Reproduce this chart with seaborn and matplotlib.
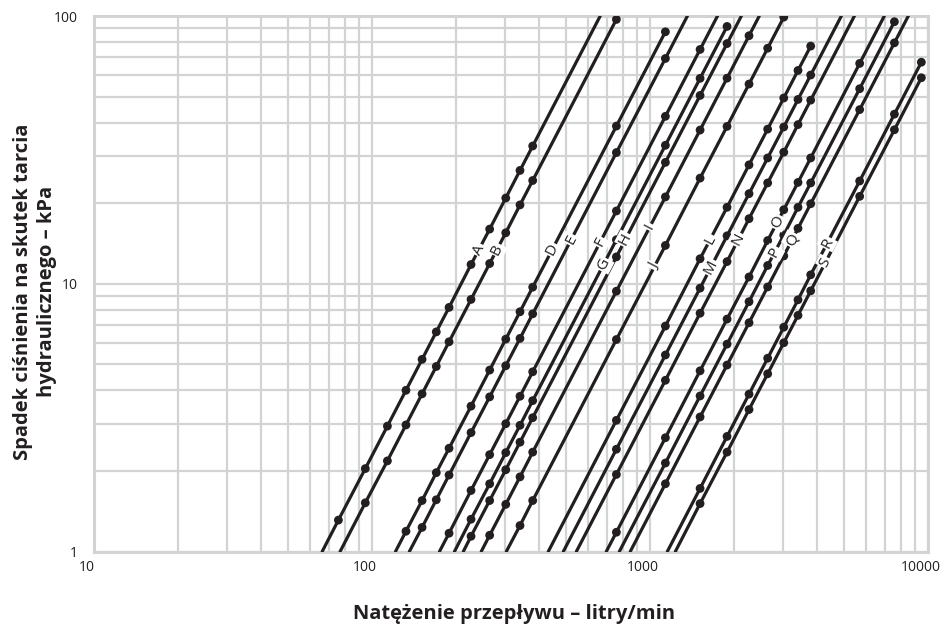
import numpy as np
import pandas as pd
import matplotlib
matplotlib.use("Agg")
import matplotlib.pyplot as plt
import matplotlib.transforms as mtransforms
from matplotlib.ticker import LogLocator, NullFormatter, FixedLocator, FixedFormatter
import seaborn as sns

N = np.nan
# Flow rates (L/min) at which the table points (dots) are given
flow_lpm = [75.7, 94.6, 113.6, 132.5, 151.4, 170.3, 189.3, 227.1, 265.0, 302.8, 340.7, 378.5,
            757, 1136, 1514, 1893, 2271, 2650, 3028, 3407, 3785, 5678, 7571, 9464]

labels = ["A", "B", "D", "E", "F", "G", "H", "I", "J", "L", "M", "N", "O", "P", "Q", "R", "S"]

# Friction pressure drop (kPa) per line at the flows above (nan = no point)
p_A = [1.31, 2.04, 2.94, 4.00, 5.22, 6.61, 8.16, 11.8, 16.0, 20.9, 26.5, 32.7] + [N] * 12
p_B = [N, 1.52, 2.18, 2.97, 3.88, 4.91, 6.07, 8.74, 11.9, 15.5, 19.7, 24.3, 97.1] + [N] * 11
p_D = [N, N, N, 1.19, 1.55, 1.97, 2.43, 3.49, 4.76, 6.21, 7.86, 9.71, 38.8, 87.3] + [N] * 10
p_E = [N] * 4 + [1.23, 1.56, 1.93, 2.78, 3.78, 4.94, 6.25, 7.72, 30.9, 69.4] + [N] * 10
p_F = [N] * 6 + [1.17, 1.69, 2.30, 3.00, 3.80, 4.69, 18.7, 42.2, 75.0] + [N] * 9
p_G = [N] * 7 + [1.32, 1.79, 2.34, 2.96, 3.66, 14.6, 32.9, 58.5, 91.4] + [N] * 8
p_H = [N] * 7 + [1.14, 1.55, 2.02, 2.56, 3.16, 12.6, 28.4, 50.5, 78.9] + [N] * 8
p_I = [N] * 8 + [1.15, 1.50, 1.90, 2.35, 9.38, 21.1, 37.5, 58.6, 84.4] + [N] * 7
p_J = [N] * 10 + [1.25, 1.55, 6.19, 13.9, 24.8, 38.7, 55.7, 75.8, 99.0] + [N] * 5
p_L = [N] * 12 + [3.09, 6.95, 12.4, 19.3, 27.8, 37.8, 49.4, 62.6, 77.2] + [N] * 3
p_M = [N] * 12 + [2.41, 5.42, 9.63, 15.1, 21.7, 29.5, 38.5, 48.8, 60.2] + [N] * 3
p_N = [N] * 12 + [1.94, 4.36, 7.76, 12.1, 17.5, 23.8, 31.0, 39.3, 48.5] + [N] * 3
p_O = [N] * 12 + [1.18, 2.66, 4.73, 7.38, 10.6, 14.5, 18.9, 23.9, 29.5, 66.5] + [N] * 2
p_P = [N] * 13 + [2.14, 3.81, 5.95, 8.57, 11.7, 15.2, 19.3, 23.8, 53.5, 95.2] + [N] * 1
p_Q = [N] * 13 + [1.79, 3.18, 4.97, 7.15, 9.73, 12.7, 16.1, 19.9, 44.7, 79.4] + [N] * 1
p_R = [N] * 14 + [1.72, 2.69, 3.87, 5.27, 6.88, 8.71, 10.8, 24.2, 43.0, 67.2]
p_S = [N] * 14 + [1.51, 2.35, 3.39, 4.61, 6.02, 7.62, 9.41, 21.2, 37.6, 58.8]

# Flow where each line crosses 1 kPa, and 100 kPa (only for lines running to the top)
start_lpm = [66.2, 76.8, 121.5, 136.3, 174.9, 198.0, 213.1, 247.2, 304.3, 430.7,
             487.9, 543.5, 696.4, 775.9, 849.4, 1154.4, 1233.9]
top_lpm = [662, N, N, 1363, 1749, N, 2131, 2472, N, N, 4879, 5435, 6964, N, 8494, N, N]

x_ticks = [10, 100, 1000, 10000]
y_ticks = [1, 10, 100]
x_title = "Natężenie przepływu – litry/min"
y_title = "Spadek ciśnienia na skutek tarcia\nhydraulicznego – kPa"

pressures = [p_A, p_B, p_D, p_E, p_F, p_G, p_H, p_I, p_J, p_L, p_M, p_N, p_O, p_P, p_Q, p_R, p_S]

# ---- layout / style (not data) ----
label_kpa = [13.4, 13.4, 13.4, 14.6, 14.3, 11.8, 14.6, 16.3, 11.6, 14.6, 11.5, 14.6,
             17.0, 13.1, 14.6, 14.2, 12.0]
INK = "#231f20"
GRID = "#d2d3d5"

sns.set_style("white")
plt.rcParams["font.family"] = ["Open Sans", "DejaVu Sans"]

dot_rows, line_rows = [], []
for lab, ps, q0, qt in zip(labels, pressures, start_lpm, top_lpm):
    pts = [(q0, 1.0)]
    for q, p in zip(flow_lpm, ps):
        if not np.isnan(p):
            dot_rows.append({"line": lab, "flow": q, "p": p})
            pts.append((q, p))
    if not np.isnan(qt):
        pts.append((qt, 100.0))
    for q, p in pts:
        line_rows.append({"line": lab, "flow": q, "p": p})
dots = pd.DataFrame(dot_rows)
lines = pd.DataFrame(line_rows)

fig = plt.figure(figsize=(9.4, 6.29), dpi=100)
ax = fig.add_axes([94 / 940, 1 - 551.5 / 629, (928 - 94) / 940, (551.5 - 16) / 629])
ax.set_xscale("log")
ax.set_yscale("log")
ax.set_xlim(10, 10000)
ax.set_ylim(1, 100)

sns.lineplot(data=lines, x="flow", y="p", units="line", estimator=None, sort=True,
             color=INK, lw=2.3, ax=ax, legend=False, zorder=3)
sns.scatterplot(data=dots, x="flow", y="p", color=INK, s=40, edgecolor="none",
                ax=ax, legend=False, zorder=4)

ax.xaxis.set_major_locator(FixedLocator(x_ticks))
ax.xaxis.set_major_formatter(FixedFormatter([str(t) for t in x_ticks]))
ax.yaxis.set_major_locator(FixedLocator(y_ticks))
ax.yaxis.set_major_formatter(FixedFormatter([str(t) for t in y_ticks]))
ax.xaxis.set_minor_locator(LogLocator(base=10, subs=np.arange(2, 10)))
ax.yaxis.set_minor_locator(LogLocator(base=10, subs=np.arange(2, 10)))
ax.xaxis.set_minor_formatter(NullFormatter())
ax.yaxis.set_minor_formatter(NullFormatter())
ax.grid(which="both", color=GRID, lw=1.6, zorder=0)
ax.set_axisbelow(True)
ax.tick_params(which="both", length=0, labelsize=10, colors=INK)
ax.tick_params(axis="x", pad=6)
ax.tick_params(axis="y", pad=12)
for s in ax.spines.values():
    s.set_color(GRID)
    s.set_linewidth(2.2)

# x tick labels sit slightly left of their grid lines in the reference
shift = mtransforms.ScaledTranslation(-7 / 100, 0, fig.dpi_scale_trans)
for t in ax.get_xticklabels():
    t.set_transform(t.get_transform() + shift)

ax.set_xlabel(x_title, fontsize=14.5, fontweight="bold", color=INK)
ax.set_ylabel(y_title, fontsize=14.5, fontweight="bold", color=INK, linespacing=1.3)
ax.xaxis.set_label_coords(0.504, -0.117)
ax.xaxis.label.set_va("center")
ax.yaxis.set_label_coords(-0.071, 0.485)
ax.yaxis.label.set_va("center")

# labels along lines
for lab, q0, pl in zip(labels, start_lpm, label_kpa):
    sub = lines[lines["line"] == lab].sort_values("flow")
    lq = np.log10(sub["flow"].values)
    lp = np.log10(sub["p"].values)
    qx = 10 ** np.interp(np.log10(pl), lp, lq)
    a = ax.transData.transform((sub["flow"].values[0], sub["p"].values[0]))
    b = ax.transData.transform((sub["flow"].values[-1], sub["p"].values[-1]))
    ang = np.degrees(np.arctan2(b[1] - a[1], b[0] - a[0]))
    ax.text(qx, pl, lab, rotation=ang, rotation_mode="anchor", ha="center", va="center",
            fontsize=11, color=INK, zorder=5,
            bbox=dict(facecolor="white", edgecolor="none", pad=1.0))

fig.savefig("out.png", dpi=100)
